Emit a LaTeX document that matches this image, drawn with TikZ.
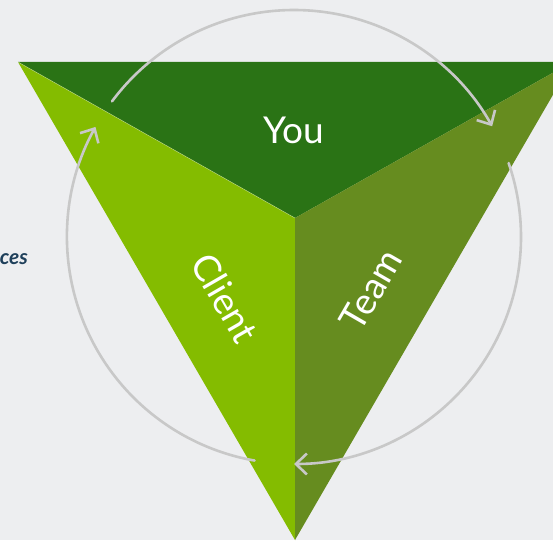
\documentclass[tikz,border=0pt]{standalone}
\usepackage{fontspec}
\setmainfont{Lato}
\usetikzlibrary{arrows.meta}
\definecolor{bgcol}{HTML}{EDEEF0}
\definecolor{youcol}{HTML}{2A7315}
\definecolor{clientcol}{HTML}{84BC00}
\definecolor{teamcol}{HTML}{668C1F}
\definecolor{cyclecol}{HTML}{C8C8C8}
\definecolor{notecol}{HTML}{1E3F5A}
\tikzset{
  cyclearc/.style={draw=cyclecol, line width=2.6pt, line cap=round,
    -{Straight Barb[length=11pt,width=21pt,line width=2.6pt]}},
  partlabel/.style={text=white, font=\fontsize{37}{40}\selectfont, inner sep=0pt},
}
\begin{document}
\begin{tikzpicture}[x=1pt,y=-1pt]
  % canvas
  \fill[bgcol] (0,0) rectangle (553,540);
  \useasboundingbox (0,0) rectangle (553,540);
  \clip (0,0) rectangle (553,540);

  % corners of the triangle and its centre
  \coordinate (tl) at (18,62);
  \coordinate (tr) at (572,62);
  \coordinate (bt) at (295,540);
  \coordinate (mid) at (295,218);
  \coordinate (ctr) at (294,237);

  % the three parts
  \fill[youcol] (tl) -- (tr) -- (mid) -- cycle;
  \fill[clientcol] (tl) -- (mid) -- (bt) -- cycle;
  \fill[teamcol] (tr) -- (bt) -- (mid) -- cycle;
  \draw[white, opacity=0.35, line width=0.6pt] (tl) -- (mid);

  % cycle arrows round the triangle
  \draw[cyclearc] ([shift={(216.7:227)}]ctr) arc[start angle=216.7, end angle=330.8, radius=227];
  \draw[cyclearc] ([shift={(341:227)}]ctr) arc[start angle=341, end angle=450, radius=227];
  \draw[cyclearc] ([shift={(100:227)}]ctr) arc[start angle=100, end angle=209, radius=227];

  % labels
  \node[partlabel] (you) at (294,130) {You};
  \node[partlabel, rotate=-60] (client) at (225,298) {Client};
  \node[partlabel, rotate=60] (team) at (371,290) {Team};
  \node[anchor=base east, text=notecol, font=\fontsize{21}{24}\selectfont\bfseries\itshape, inner sep=0pt] (note) at (28,264) {ces};
\end{tikzpicture}
\end{document}
